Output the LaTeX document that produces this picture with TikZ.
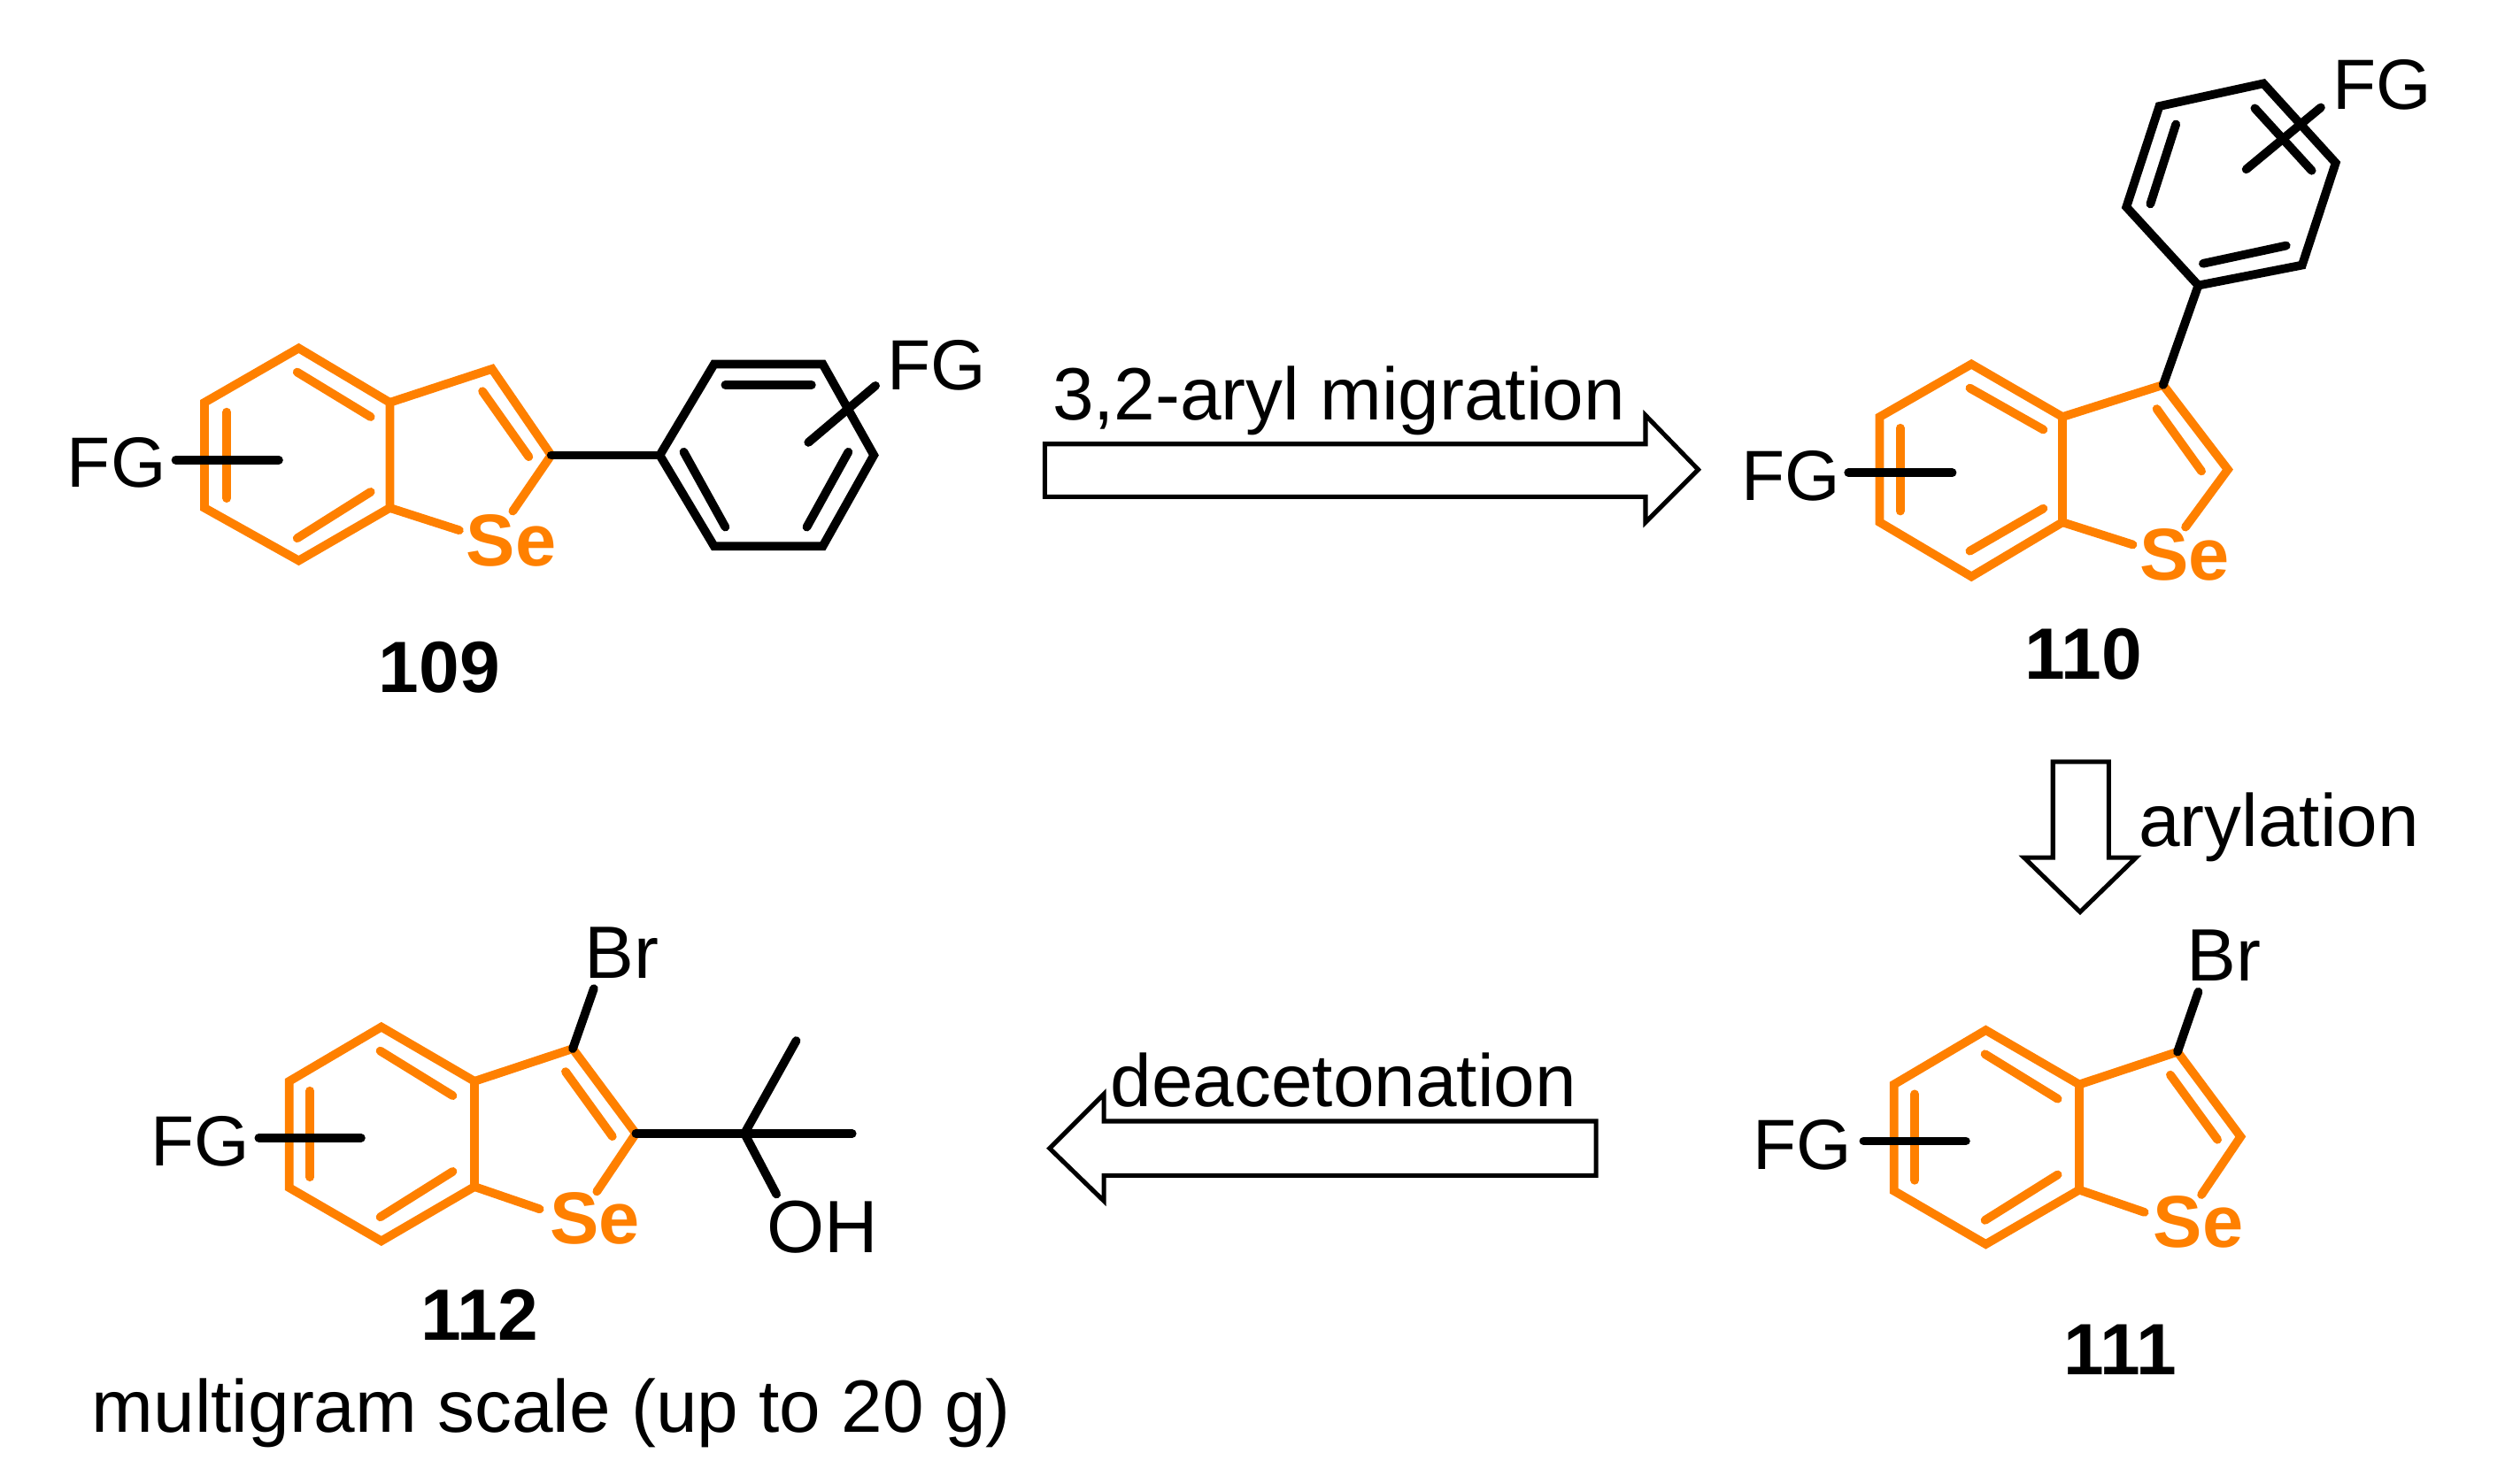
\documentclass[tikz,border=0pt]{standalone}
\usepackage{fontspec}
\setmainfont{Liberation Sans}
\definecolor{seorange}{HTML}{FF8000}
\tikzset{
  orbond/.style={draw=seorange,line width=5.4pt,line cap=round,line join=miter},
  blbond/.style={draw=black,line width=5.4pt,line cap=round,line join=miter},
  lab/.style={inner sep=0pt,anchor=base,font=\fontsize{46.4}{46}\selectfont},
  fglab/.style={inner sep=0pt,anchor=base,font=\fontsize{44.5}{46}\selectfont},
  num/.style={inner sep=0pt,anchor=base,font=\fontsize{45.5}{46}\selectfont\bfseries},
  selab/.style={inner sep=0pt,anchor=base,text=seorange,font=\fontsize{46}{46}\selectfont\bfseries},
  openarrow/.style={draw=black,fill=white,line width=2.8pt,line join=miter}
}
\begin{document}
\begin{tikzpicture}[x=1pt,y=-1pt]
\useasboundingbox (0,0) rectangle (1568,929);

% ---------- 109 ----------
\coordinate (a1) at (187,218); \coordinate (a2) at (244,252); \coordinate (a3) at (244,318);
\coordinate (a4) at (187,351); \coordinate (a5) at (128,318); \coordinate (a6) at (128,252);
\coordinate (a7) at (308,231); \coordinate (a8) at (345,285);
\coordinate (aS1) at (287.5,332); \coordinate (aS2) at (321,320);
\draw[orbond] (a1)--(a2)--(a3)--(a4)--(a5)--(a6)--cycle;
\draw[orbond] (a2)--(a7)--(a8)--(aS2);
\draw[orbond] (a3)--(aS1);
\draw[orbond] (142,258)--(142,312);
\draw[orbond] (186,233)--(232,261);
\draw[orbond] (186,337)--(232,308);
\draw[orbond] (302,245)--(331,286);
\coordinate (p1) at (413,285); \coordinate (p2) at (447,228); \coordinate (p3) at (515,228);
\coordinate (p4) at (547,285); \coordinate (p5) at (515,342); \coordinate (p6) at (447,342);
\draw[blbond] (p1)--(p2)--(p3)--(p4)--(p5)--(p6)--cycle;
\draw[blbond] (a8)--(p1);
\draw[blbond] (454,241)--(508,241);
\draw[blbond] (428,283)--(454,330);
\draw[blbond] (531,283)--(505,330);
\draw[blbond] (506,277)--(548,241.5);
\draw[blbond] (110,288)--(174.5,288);
\node[fglab] (fg1) at (73,305) {FG};
\node[fglab] (fg2) at (586.5,244) {FG};
\node[selab] (se1) at (320,354.5) {Se};
\node[num] (n109) at (275,433.5) {109};

% ---------- 110 ----------
\coordinate (b1) at (1234,228); \coordinate (b2) at (1291,261); \coordinate (b3) at (1291,327);
\coordinate (b4) at (1234,361); \coordinate (b5) at (1176.6,327); \coordinate (b6) at (1176.6,261);
\coordinate (b7) at (1354,241); \coordinate (b8) at (1394.5,294);
\coordinate (bS1) at (1335,341); \coordinate (bS2) at (1368,330);
\draw[orbond] (b1)--(b2)--(b3)--(b4)--(b5)--(b6)--cycle;
\draw[orbond] (b2)--(b7)--(b8)--(bS2);
\draw[orbond] (b3)--(bS1);
\draw[orbond] (1189.4,268)--(1189.4,320);
\draw[orbond] (1233,243)--(1279,269);
\draw[orbond] (1233,345)--(1279,318.4);
\draw[orbond] (1350,256)--(1378,295);
\coordinate (q1) at (1376,178.7); \coordinate (q2) at (1331,129.6); \coordinate (q3) at (1351.6,66.5);
\coordinate (q4) at (1416.8,52.3); \coordinate (q5) at (1462,102); \coordinate (q6) at (1441,166);
\draw[blbond] (q1)--(q2)--(q3)--(q4)--(q5)--(q6)--cycle;
\draw[blbond] (b7)--(q1);
\draw[blbond] (1379,165)--(1431,153.8);
\draw[blbond] (1346,127.7)--(1362,77.8);
\draw[blbond] (1411.4,67.8)--(1447,106.8);
\draw[blbond] (1406,106)--(1452.7,67.3);
\draw[blbond] (1157,296)--(1222,296);
\node[fglab] (fg3) at (1121,313.5) {FG};
\node[fglab] (fg4) at (1491,68.4) {FG};
\node[selab] (se2) at (1367.5,363) {Se};
\node[num] (n110) at (1304,425) {110};

% ---------- 112 ----------
\coordinate (c1) at (238.7,643); \coordinate (c2) at (297,677); \coordinate (c3) at (297,743);
\coordinate (c4) at (238.7,777); \coordinate (c5) at (181,743.6); \coordinate (c6) at (181,677);
\coordinate (c7) at (358.5,656.6); \coordinate (c8) at (398,709.7);
\coordinate (cS1) at (337.8,757); \coordinate (cS2) at (373.6,746);
\draw[orbond] (c1)--(c2)--(c3)--(c4)--(c5)--(c6)--cycle;
\draw[orbond] (c2)--(c7)--(c8)--(cS2);
\draw[orbond] (c3)--(cS1);
\draw[orbond] (194,683)--(194,737);
\draw[orbond] (238,658)--(283.4,686);
\draw[orbond] (238,762)--(283.4,733.5);
\draw[orbond] (354,671)--(383.3,711.5);
\coordinate (cq) at (466,709.7); \coordinate (cm1) at (533.4,709.7);
\coordinate (cm2) at (498.4,651.6); \coordinate (cO) at (486,747.7); \coordinate (cBr) at (371.7,619);
\draw[blbond] (c8)--(cm1);
\draw[blbond] (cm2)--(cq)--(cO);
\draw[blbond] (c7)--(cBr);
\draw[blbond] (162,712.4)--(226,712.4);
\node[fglab] (fg5) at (125.5,730) {FG};
\node[lab] (br1) at (389,612.4) {Br};
\node[lab] (oh1) at (515,784.5) {OH};
\node[selab] (se3) at (372.5,779) {Se};
\node[num] (n112) at (300,839) {112};
\node[lab] (scale) at (345,897) {multigram scale (up to 20 g)};

% ---------- 111 ----------
\coordinate (d1) at (1243,645); \coordinate (d2) at (1301.5,679); \coordinate (d3) at (1301.5,745);
\coordinate (d4) at (1243,779); \coordinate (d5) at (1185.5,745.6); \coordinate (d6) at (1185.5,679);
\coordinate (d7) at (1363,658.6); \coordinate (d8) at (1402.5,711.7);
\coordinate (dS1) at (1342.3,759); \coordinate (dS2) at (1378,748);
\draw[orbond] (d1)--(d2)--(d3)--(d4)--(d5)--(d6)--cycle;
\draw[orbond] (d2)--(d7)--(d8)--(dS2);
\draw[orbond] (d3)--(dS1);
\draw[orbond] (1198.5,685)--(1198.5,739);
\draw[orbond] (1242.5,660)--(1288,688);
\draw[orbond] (1242.5,764)--(1288,735.5);
\draw[orbond] (1358.5,673)--(1388,713.5);
\coordinate (dBr) at (1376,621);
\draw[blbond] (d7)--(dBr);
\draw[blbond] (1166.5,714.4)--(1230.5,714.4);
\node[fglab] (fg6) at (1128,732) {FG};
\node[lab] (br2) at (1392,614.4) {Br};
\node[selab] (se4) at (1376,781) {Se};
\node[num] (n111) at (1327,861) {111};

% ---------- arrows ----------
\draw[openarrow] (654,278)--(1030,278)--(1030,260)--(1063,294)--(1030,327)--(1030,311)--(654,311)--cycle;
\node[lab] (t1) at (838,263) {3,2-aryl migration};
\draw[openarrow] (1285,477)--(1320,477)--(1320,537)--(1337,537)--(1302,571)--(1267,537)--(1285,537)--cycle;
\node[lab] (t2) at (1426.5,530) {arylation};
\draw[openarrow] (999,702)--(691,702)--(691,685)--(657,719)--(691,752)--(691,736)--(999,736)--cycle;
\node[lab] (t3) at (841,693) {deacetonation};
\end{tikzpicture}
\end{document}
